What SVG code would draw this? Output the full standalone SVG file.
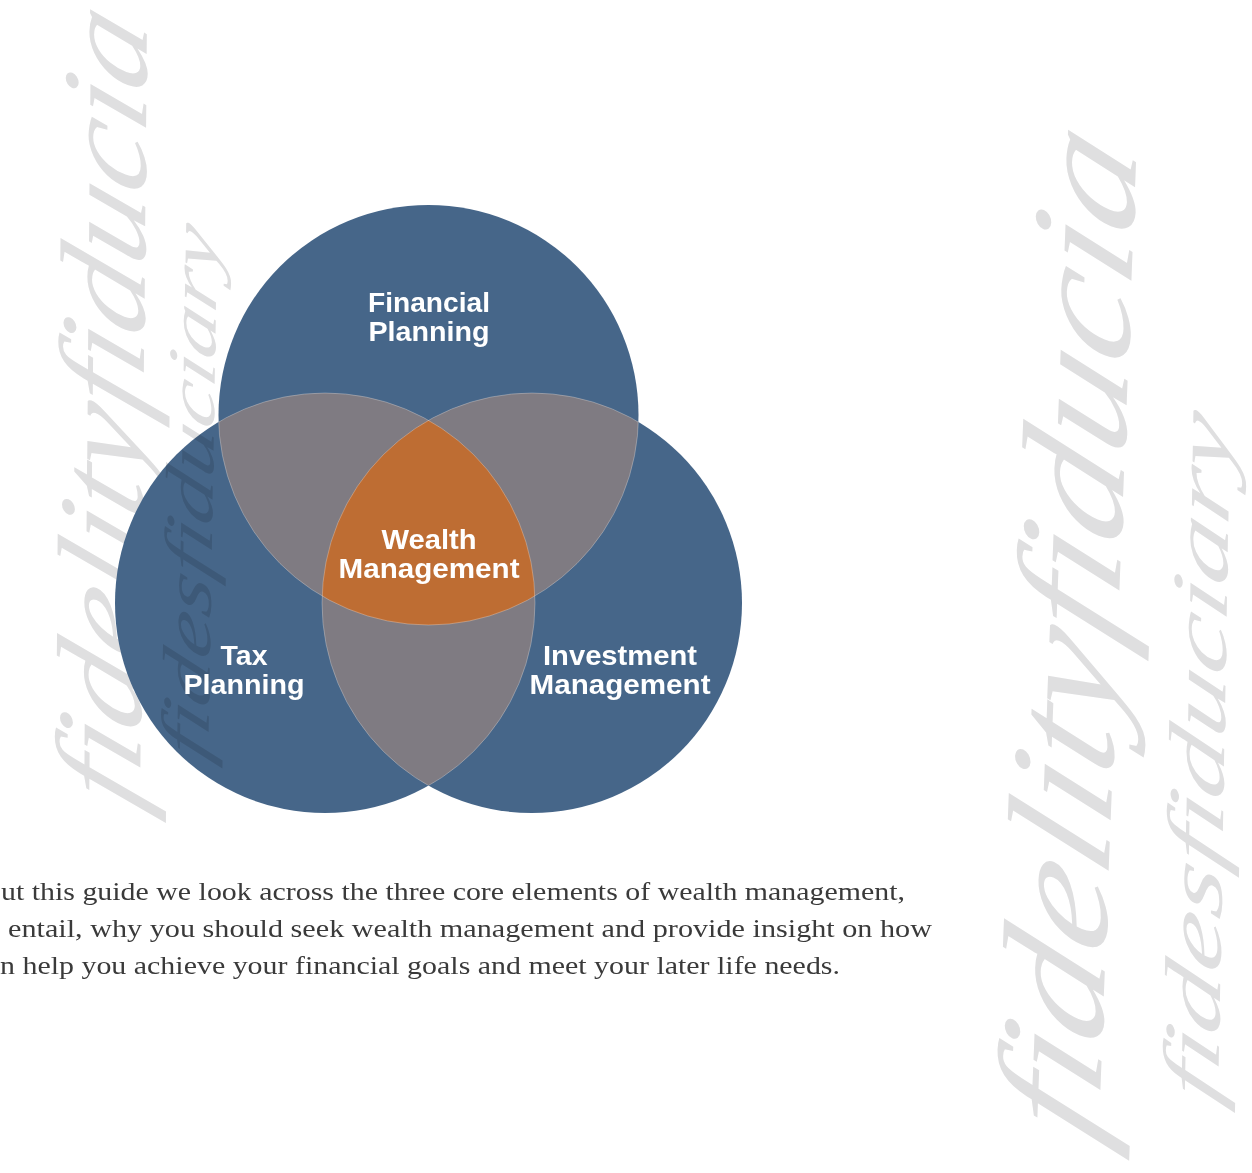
<svg xmlns="http://www.w3.org/2000/svg" width="1252" height="1173" viewBox="0 0 1252 1173">
<style>
.bg{fill:#ffffff}
.blue{fill:#466689}
.gray{fill:#7f7b82}
.orange{fill:#be6d33}
.seam{fill:none;stroke:#ffffff;stroke-opacity:0.35;stroke-width:0.8}
.lbl{font-family:"Liberation Sans","Noto Sans",Arial,sans-serif;font-weight:bold;font-size:28px;fill:#ffffff;text-anchor:middle}
.wm{font-family:"Liberation Serif","DejaVu Serif",serif;font-style:italic;fill:#dfdfe0}
.wmx{mix-blend-mode:multiply}
.body{font-family:"Liberation Serif","DejaVu Serif",serif;font-size:26px;fill:#3a3a3a}
</style>
<defs>
<circle id="cT" cx="428.5" cy="415" r="210"/>
<circle id="cL" cx="325" cy="603" r="210"/>
<circle id="cR" cx="532" cy="603" r="210"/>
<clipPath id="clipT"><use href="#cT"/></clipPath>
<clipPath id="clipL"><use href="#cL"/></clipPath>
<clipPath id="clipR"><use href="#cR"/></clipPath>
<clipPath id="clipLR"><use href="#cL"/><use href="#cR"/></clipPath>
<clipPath id="clipTR"><use href="#cT"/><use href="#cR"/></clipPath>
<clipPath id="clipTL"><use href="#cT"/><use href="#cL"/></clipPath>
</defs>
<rect class="bg" x="0" y="0" width="1252" height="1173"/>

<g id="watermarks-back">
<text class="wm" font-size="122" textLength="790" lengthAdjust="spacingAndGlyphs" transform="translate(140,815) rotate(-89.5) skewX(-20)">fidelityfiducia</text>
<text class="wm" font-size="148" textLength="1000" lengthAdjust="spacingAndGlyphs" transform="translate(1098,1150) rotate(-87.8) skewX(-20)">fidelityfiducia</text>
<text class="wm" font-size="80" textLength="685" lengthAdjust="spacingAndGlyphs" transform="translate(1218,1108) rotate(-89) skewX(-20)">fidesfiduciary</text>
</g>

<g id="venn-shapes">
<use href="#cT" class="blue"/>
<use href="#cL" class="blue"/>
<use href="#cR" class="blue"/>
<g clip-path="url(#clipT)"><use href="#cL" class="gray"/><use href="#cR" class="gray"/></g>
<g clip-path="url(#clipL)"><use href="#cR" class="gray"/></g>
<g clip-path="url(#clipT)"><g clip-path="url(#clipL)"><use href="#cR" class="orange"/></g></g>
<g clip-path="url(#clipLR)"><use href="#cT" class="seam"/></g>
<g clip-path="url(#clipTR)"><use href="#cL" class="seam"/></g>
<g clip-path="url(#clipTL)"><use href="#cR" class="seam"/></g>
</g>

<g id="watermarks-front">
<text class="wm wmx" font-size="68" textLength="530" lengthAdjust="spacingAndGlyphs" transform="translate(208,764) rotate(-89) skewX(-20)">fidesfiduciary</text>
</g>

<g id="node-financial">
<text class="lbl" x="429" y="312" textLength="122" lengthAdjust="spacingAndGlyphs">Financial</text>
<text class="lbl" x="429" y="341" textLength="121" lengthAdjust="spacingAndGlyphs">Planning</text>
</g>
<g id="node-wealth">
<text class="lbl" x="429" y="549" textLength="95" lengthAdjust="spacingAndGlyphs">Wealth</text>
<text class="lbl" x="429" y="578" textLength="181" lengthAdjust="spacingAndGlyphs">Management</text>
</g>
<g id="node-tax">
<text class="lbl" x="244" y="665" textLength="47" lengthAdjust="spacingAndGlyphs">Tax</text>
<text class="lbl" x="244" y="694" textLength="121" lengthAdjust="spacingAndGlyphs">Planning</text>
</g>
<g id="node-investment">
<text class="lbl" x="620" y="665" textLength="154" lengthAdjust="spacingAndGlyphs">Investment</text>
<text class="lbl" x="620" y="694" textLength="181" lengthAdjust="spacingAndGlyphs">Management</text>
</g>

<g id="connectors"></g>

<g id="paragraph">
<text class="body" x="1" y="900" textLength="904" lengthAdjust="spacingAndGlyphs">ut this guide we look across the three core elements of wealth management,</text>
<text class="body" x="8" y="937" textLength="924" lengthAdjust="spacingAndGlyphs">entail, why you should seek wealth management and provide insight on how</text>
<text class="body" x="0" y="974" textLength="840" lengthAdjust="spacingAndGlyphs">n help you achieve your financial goals and meet your later life needs.</text>
</g>
</svg>
